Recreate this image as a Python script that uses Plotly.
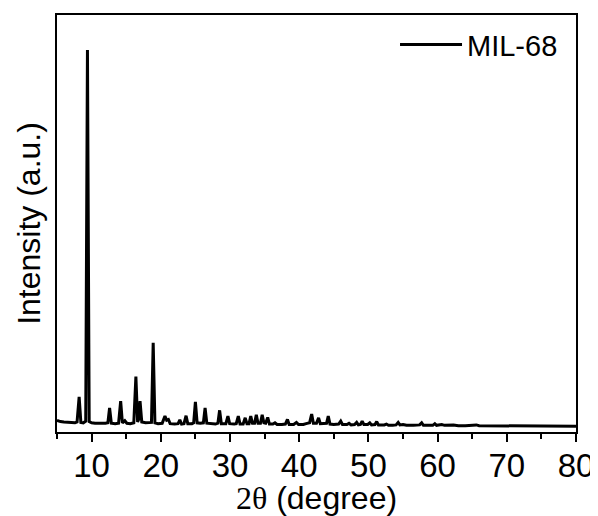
import plotly.graph_objects as go

two_theta = [
    5.0, 5.5, 6.0, 6.5, 7.0, 7.6, 7.9, 8.2, 8.45, 8.8, 9.15, 9.4, 9.65, 10.0, 10.5,
    11.0, 11.5, 12.0, 12.35, 12.6, 12.85, 13.4, 13.9, 14.2, 14.45, 14.8, 15.1, 15.6,
    16.1, 16.4, 16.65, 16.8, 17.0, 17.25, 17.8, 18.3, 18.65, 18.9, 19.15, 19.6, 20.2,
    20.6, 20.85, 21.1, 21.35, 22.0, 22.5, 22.75, 23.0, 23.35, 23.65, 23.9, 24.5, 24.75,
    25.0, 25.25, 25.7, 26.15, 26.4, 26.65, 27.3, 27.9, 28.25, 28.5, 28.75, 29.4, 29.7,
    29.95, 30.6, 30.9, 31.2, 31.45, 31.9, 32.2, 32.45, 32.75, 33.0, 33.25, 33.55, 33.8,
    34.05, 34.4, 34.65, 34.9, 35.15, 35.45, 35.7, 36.2, 36.5, 36.8, 37.5, 38.0, 38.3,
    38.55, 39.2, 39.6, 39.9, 40.6, 41.0, 41.5, 41.8, 42.05, 42.5, 42.8, 43.05, 43.6,
    43.95, 44.2, 44.45, 45.0, 45.7, 46.0, 46.25, 46.9, 47.2, 47.5, 48.0, 48.3, 48.55,
    48.85, 49.1, 49.35, 49.9, 50.2, 50.45, 50.95, 51.2, 51.45, 52.3, 52.6, 52.9, 53.5,
    54.0, 54.3, 54.55, 55.0, 55.5, 56.5, 57.4, 57.7, 57.95, 58.5, 59.3, 59.6, 59.85,
    60.6, 61.0, 62.3, 63.0, 64.0, 65.6, 66.0, 67.0, 68.0, 70.0, 72.0, 74.0, 76.0, 78.0,
    80.0,
]
intensity = [
    28, 25, 24, 23, 22, 22, 24, 84, 23, 22, 26, 916, 25, 22, 21,
    21, 20, 21, 22, 58, 21, 20, 21, 74, 22, 27, 21, 20,
    22, 133, 24, 30, 74, 24, 22, 22, 23, 214, 22, 20, 21,
    38, 28, 30, 20, 19, 20, 29, 19, 20, 39, 20, 20, 22,
    72, 22, 21, 22, 58, 21, 20, 19, 21, 52, 20, 20, 38,
    20, 19, 20, 38, 19, 19, 34, 20, 20, 38, 21, 21, 41,
    21, 21, 41, 22, 21, 35, 19, 19, 22, 18, 18, 19, 30,
    18, 18, 23, 18, 18, 20, 22, 43, 21, 21, 34, 20, 20,
    21, 38, 19, 18, 19, 26, 18, 18, 21, 17, 18, 23, 17,
    18, 26, 18, 18, 22, 17, 18, 25, 17, 17, 19, 16, 16,
    17, 23, 17, 18, 16, 16, 17, 22, 16, 16, 16, 20, 16,
    18, 16, 17, 15, 15, 17, 15, 15, 15, 15, 14, 15, 14, 15,
    14,
]

x_ticks = [10, 20, 30, 40, 50, 60, 70, 80]
series_name = "MIL-68"

fig = go.Figure()
fig.add_trace(go.Scatter(
    x=two_theta, y=intensity, mode="lines", name=series_name,
    line=dict(color="black", width=3),
))

axis_font = dict(family="Liberation Sans, Arial, sans-serif", size=32, color="black")

# the page body has an 8px margin, so the figure is sized 590x508
fig.update_layout(
    width=590, height=508,
    margin=dict(l=49, r=22, t=7, b=84),
    plot_bgcolor="white", paper_bgcolor="white",
    font=axis_font,
    showlegend=True,
    legend=dict(
        x=0.975, y=0.99, xanchor="right", yanchor="top",
        bgcolor="rgba(0,0,0,0)", borderwidth=0,
        font=dict(family="Liberation Sans, Arial, sans-serif", size=29, color="black"),
        itemwidth=62,
    ),
    xaxis=dict(
        range=[5, 80], tickvals=x_ticks, ticks="outside", ticklen=8, tickwidth=2,
        tickcolor="black", showline=True, linewidth=2, linecolor="black", mirror=True,
        showgrid=False, zeroline=False, automargin=False,
        tickfont=dict(size=33), ticklabelstandoff=-5,
        minor=dict(dtick=5, tick0=5, ticks="outside", ticklen=5, tickwidth=2,
                   tickcolor="black", showgrid=False),
        title=dict(text='<span style="font-family:Liberation Serif, Times New Roman, serif">2θ</span> (degree)',
                   font=dict(size=32), standoff=0),
    ),
    yaxis=dict(
        range=[0, 1000], showticklabels=False, ticks="",
        showline=True, linewidth=2, linecolor="black", mirror=True,
        showgrid=False, zeroline=False, automargin=False,
        title=dict(text="Intensity (a.u.)", font=dict(size=32), standoff=5),
    ),
)

fig.write_html("out.html")
